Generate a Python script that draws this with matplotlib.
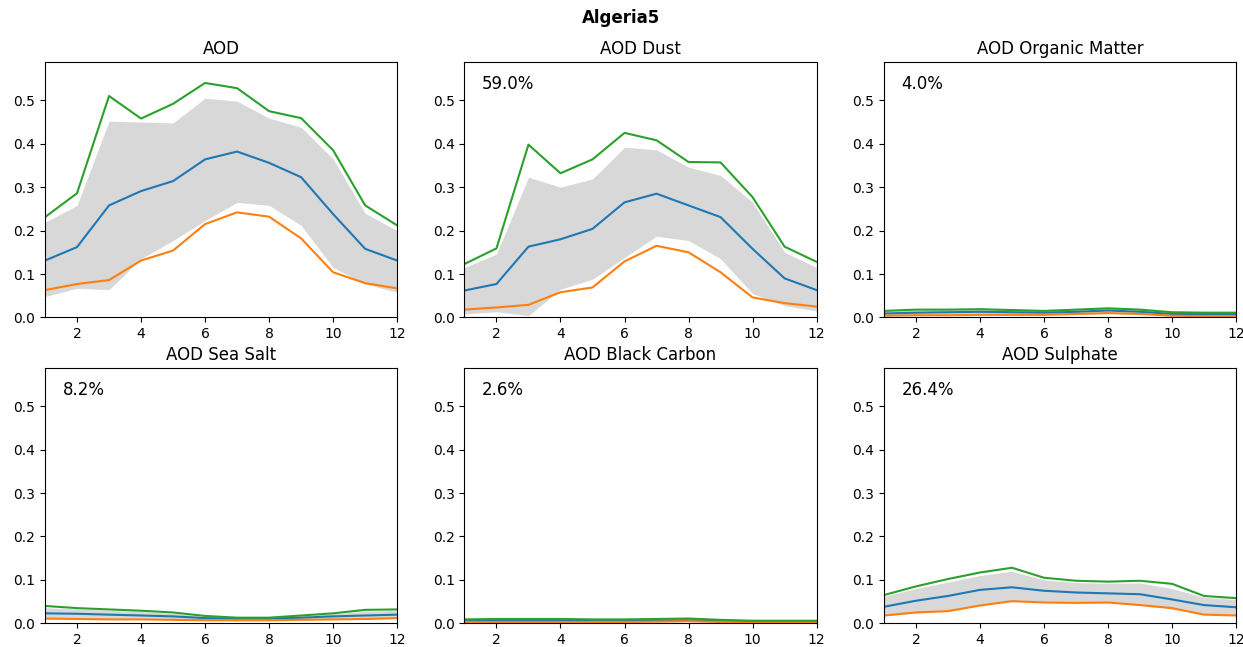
import numpy as np
import matplotlib
matplotlib.use('Agg')
import matplotlib.pyplot as plt

# monthly AOD climatology for the site
site = 'Algeria5'
months = np.arange(1, 13)

titles = ['AOD', 'AOD Dust', 'AOD Organic Matter',
          'AOD Sea Salt', 'AOD Black Carbon', 'AOD Sulphate']
shares = [None, '59.0%', '4.0%', '8.2%', '2.6%', '26.4%']

# mean (blue), min (orange), max (green), band low/high (grey)
aod_mean = [0.131, 0.162, 0.258, 0.291, 0.314, 0.364, 0.382, 0.356, 0.323, 0.238, 0.158, 0.131]
aod_min = [0.063, 0.077, 0.086, 0.131, 0.154, 0.215, 0.242, 0.232, 0.182, 0.104, 0.079, 0.067]
aod_max = [0.231, 0.286, 0.510, 0.458, 0.492, 0.540, 0.528, 0.475, 0.459, 0.385, 0.258, 0.212]
aod_lo = [0.048, 0.067, 0.064, 0.135, 0.177, 0.223, 0.265, 0.258, 0.212, 0.115, 0.077, 0.058]
aod_hi = [0.219, 0.258, 0.452, 0.450, 0.448, 0.505, 0.498, 0.459, 0.438, 0.365, 0.240, 0.200]

dust_mean = [0.062, 0.077, 0.163, 0.180, 0.204, 0.265, 0.285, 0.258, 0.231, 0.158, 0.090, 0.063]
dust_min = [0.018, 0.023, 0.029, 0.058, 0.069, 0.129, 0.165, 0.150, 0.104, 0.046, 0.033, 0.025]
dust_max = [0.123, 0.159, 0.398, 0.332, 0.364, 0.425, 0.408, 0.358, 0.357, 0.277, 0.163, 0.128]
dust_lo = [0.008, 0.013, 0.004, 0.065, 0.088, 0.138, 0.187, 0.177, 0.135, 0.055, 0.027, 0.015]
dust_hi = [0.115, 0.146, 0.323, 0.300, 0.319, 0.392, 0.386, 0.346, 0.327, 0.265, 0.150, 0.115]

om_mean = [0.009, 0.011, 0.012, 0.013, 0.012, 0.011, 0.013, 0.016, 0.013, 0.008, 0.008, 0.008]
om_min = [0.004, 0.005, 0.005, 0.006, 0.006, 0.006, 0.008, 0.010, 0.008, 0.004, 0.003, 0.003]
om_max = [0.015, 0.018, 0.018, 0.019, 0.017, 0.015, 0.018, 0.021, 0.018, 0.012, 0.011, 0.011]
om_lo = [0.004, 0.005, 0.006, 0.006, 0.006, 0.006, 0.007, 0.009, 0.007, 0.004, 0.004, 0.004]
om_hi = [0.014, 0.017, 0.018, 0.021, 0.017, 0.015, 0.018, 0.021, 0.018, 0.012, 0.011, 0.011]

ss_mean = [0.023, 0.022, 0.020, 0.018, 0.016, 0.012, 0.011, 0.011, 0.013, 0.016, 0.018, 0.020]
ss_min = [0.011, 0.010, 0.009, 0.009, 0.008, 0.007, 0.007, 0.007, 0.008, 0.009, 0.010, 0.012]
ss_max = [0.040, 0.035, 0.032, 0.029, 0.025, 0.017, 0.013, 0.013, 0.018, 0.023, 0.031, 0.032]
ss_lo = [0.010, 0.010, 0.009, 0.009, 0.008, 0.007, 0.007, 0.007, 0.008, 0.009, 0.010, 0.011]
ss_hi = [0.036, 0.033, 0.030, 0.027, 0.023, 0.016, 0.013, 0.013, 0.017, 0.022, 0.028, 0.030]

bc_mean = [0.005, 0.006, 0.006, 0.006, 0.005, 0.005, 0.006, 0.007, 0.005, 0.004, 0.004, 0.004]
bc_min = [0.003, 0.003, 0.003, 0.003, 0.003, 0.003, 0.004, 0.005, 0.003, 0.002, 0.002, 0.002]
bc_max = [0.009, 0.010, 0.010, 0.010, 0.009, 0.009, 0.010, 0.011, 0.008, 0.006, 0.006, 0.006]
bc_lo = [0.002, 0.003, 0.003, 0.003, 0.003, 0.003, 0.003, 0.004, 0.003, 0.002, 0.002, 0.002]
bc_hi = [0.009, 0.010, 0.010, 0.010, 0.009, 0.009, 0.010, 0.012, 0.008, 0.006, 0.006, 0.006]

su_mean = [0.038, 0.052, 0.063, 0.077, 0.083, 0.075, 0.071, 0.069, 0.067, 0.055, 0.042, 0.037]
su_min = [0.018, 0.025, 0.028, 0.041, 0.051, 0.048, 0.047, 0.048, 0.042, 0.035, 0.020, 0.018]
su_max = [0.065, 0.085, 0.102, 0.117, 0.128, 0.105, 0.098, 0.096, 0.098, 0.091, 0.063, 0.058]
su_lo = [0.017, 0.024, 0.030, 0.044, 0.050, 0.050, 0.048, 0.047, 0.043, 0.033, 0.022, 0.018]
su_hi = [0.062, 0.080, 0.095, 0.110, 0.120, 0.100, 0.094, 0.092, 0.093, 0.080, 0.060, 0.055]

series = [
    (aod_mean, aod_min, aod_max, aod_lo, aod_hi),
    (dust_mean, dust_min, dust_max, dust_lo, dust_hi),
    (om_mean, om_min, om_max, om_lo, om_hi),
    (ss_mean, ss_min, ss_max, ss_lo, ss_hi),
    (bc_mean, bc_min, bc_max, bc_lo, bc_hi),
    (su_mean, su_min, su_max, su_lo, su_hi),
]

fig, axes = plt.subplots(2, 3, figsize=(12.43, 6.47), dpi=100)
fig.subplots_adjust(left=0.0362, right=0.9944, top=0.904, bottom=0.0366,
                    wspace=0.191, hspace=0.198)

for ax, title, share, (mean, lo_line, hi_line, band_lo, band_hi) in zip(
        axes.flat, titles, shares, series):
    ax.fill_between(months, band_lo, band_hi, color='gray', alpha=0.3, linewidth=0)
    ax.plot(months, mean, color='C0')
    ax.plot(months, lo_line, color='C1')
    ax.plot(months, hi_line, color='C2')
    ax.set_title(title)
    ax.set_xlim(1, 12)
    ax.set_ylim(0, 0.588)
    ax.set_xticks([2, 4, 6, 8, 10, 12])
    if share:
        ax.text(0.05, 0.95, share, transform=ax.transAxes, va='top', fontsize=12)

fig.suptitle(site, fontweight='bold', y=0.986)
fig.savefig('out.png', dpi=100)
